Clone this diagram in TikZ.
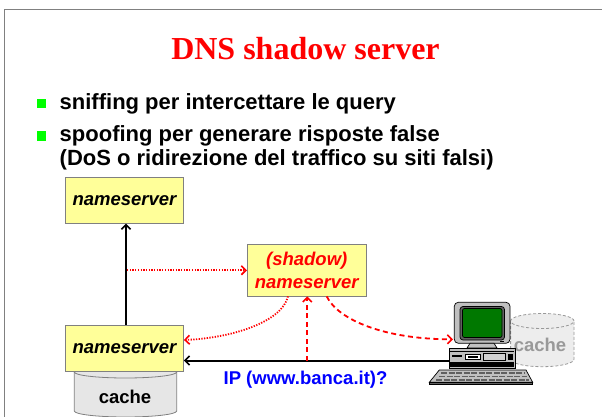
\documentclass[tikz,border=0pt]{standalone}
\usepackage{fontspec}
\setmainfont{Liberation Serif}
\newfontfamily\arialf{Liberation Sans}
\usetikzlibrary{arrows.meta}

\definecolor{boxyellow}{HTML}{FFFF99}
\definecolor{framegray}{HTML}{808080}
\definecolor{cachegray}{HTML}{E6E6E6}
\definecolor{ghostfill}{HTML}{EDEDED}
\definecolor{ghostline}{HTML}{999999}
\definecolor{bulletgreen}{HTML}{00FF00}
\definecolor{screengreen}{HTML}{007800}
\definecolor{pcgray}{HTML}{C0C0C0}
\definecolor{pcdark}{HTML}{606060}

\begin{document}
\begin{tikzpicture}[x=1pt,y=-1pt,
  nsbox/.style={draw=framegray, line width=0.8pt, fill=boxyellow,
    minimum width=118pt, minimum height=46pt, inner sep=0pt, align=center,
    font=\arialf\fontsize{18.5}{23}\selectfont\bfseries\itshape},
  bullettext/.style={anchor=base west, inner sep=0pt,
    font=\arialf\fontsize{22}{24}\selectfont\bfseries},
  bulletmark/.style={fill=bulletgreen, minimum size=9pt, inner sep=0pt},
  difftext/.style={inner sep=0pt, font=\arialf\fontsize{18.5}{22}\selectfont\bfseries},
  tip/.style={-{Straight Barb[length=4.5pt,width=9pt,line width=1.6pt]}},
  flow/.style={line width=2pt, tip},
  fake/.style={red, line width=1.8pt, tip},
  fakedash/.style={fake, dash pattern=on 5pt off 3.5pt},
  fakedot/.style={fake, dash pattern=on 1.3pt off 1.4pt}
]
\useasboundingbox (0,0) rectangle (602,417);

% slide frame
\draw[framegray, line width=1.6pt] (4.5,417) -- (4.5,9.5) -- (602,9.5);

% title
\node[anchor=base, inner sep=0pt, text=red,
      font=\fontsize{32}{36}\selectfont\bfseries] (title) at (305.5,60) {DNS shadow server};

% bullet list
\node[bulletmark] (b1) at (41,104) {};
\node[bulletmark] (b2) at (41,136) {};
\node[bullettext] (t1) at (59.5,110) {sniffing per intercettare le query};
\node[bullettext] (t2) at (59.5,141.7) {spoofing per generare risposte false};
\node[bullettext] (t3) at (59.5,165) {(DoS o ridirezione del traffico su siti falsi)};

% cache of the local nameserver
\fill[cachegray] (74.3,372) -- (74.3,411)
   arc[start angle=180, end angle=360, x radius=51.2pt, y radius=6pt] -- (176.7,372) -- cycle;
\draw[framegray, line width=0.8pt] (74.3,372) -- (74.3,411)
   arc[start angle=180, end angle=360, x radius=51.2pt, y radius=6pt] -- (176.7,372);
\draw[framegray, line width=0.8pt, fill=cachegray] (125.5,372) ellipse[x radius=51.2pt, y radius=6pt];
\node[difftext] (cache1) at (125,396.7) {cache};

% nameservers
\node[nsbox] (ns1) at (124.5,200.3) {nameserver};
\node[nsbox] (ns2) at (124.5,348.3) {nameserver};
\node[nsbox, minimum width=118.7pt, minimum height=51.3pt, text=red] (shadow) at (306.7,270.3) {(shadow)\\nameserver};

% client cache (ghosted)
\fill[ghostfill] (510.6,321) -- (510.6,359.2)
   arc[start angle=180, end angle=360, x radius=31.7pt, y radius=7.5pt] -- (574,321) -- cycle;
\draw[ghostline, densely dashed, line width=0.8pt] (510.6,321) -- (510.6,359.2)
   arc[start angle=180, end angle=360, x radius=31.7pt, y radius=7.5pt] -- (574,321);
\draw[ghostline, densely dashed, line width=0.8pt, fill=ghostfill] (542.3,321) ellipse[x radius=31.7pt, y radius=7.5pt];
\node[difftext, text=ghostline] (cache2) at (540,345) {cache};

% client computer
\begin{scope}[line width=0.7pt]
  % monitor
  \draw[fill=pcgray, rounded corners=4pt] (454.3,302.3) rectangle (510,343.3);
  \draw[fill=pcdark, rounded corners=3pt] (460,306.5) rectangle (504.5,340);
  \draw[fill=screengreen, rounded corners=2pt] (462.5,308.5) rectangle (502,337.5);
  \fill (500,341) rectangle (504,342.3);
  % stand
  \draw[fill=pcgray] (470,343.3) -- (494,343.3) -- (497,348) -- (467,348) -- cycle;
  % system unit
  \draw[fill=pcgray] (449.3,348) rectangle (515,368.3);
  \fill (450,362) rectangle (514.3,366.5);
  \fill (450,351) rectangle (514.3,352.3);
  \draw[fill=white] (465,354) rectangle (480,359);
  \fill (468,356) rectangle (478,357.5);
  \draw[fill=pcgray!70] (483,353.5) rectangle (505,360);
  \fill (508,353.5) rectangle (513,360);
  \fill (452,355) rectangle (462,356.5);
  % keyboard
  \draw[fill=pcgray] (439.3,370) -- (526,370) -- (532.7,382.3) -- (429.3,382.3) -- cycle;
  \draw[fill=pcdark] (429.3,382.3) rectangle (532.7,384.3);
  \foreach \yy/\xa/\xb in {373/441/524, 376.5/439/527, 380/436/529}
    \draw[pcdark, line width=1.4pt, dash pattern=on 6pt off 1.5pt] (\xa,\yy) -- (\xb,\yy);
\end{scope}
\coordinate (screen) at (453,339.3);
\coordinate (lan) at (449,360.5);

% legitimate resolution path
\draw[flow] ([xshift=1.5pt]ns2.north) -- ([xshift=1.5pt]ns1.south);
\draw[flow] (lan) -- (lan -| ns2.east);
\node[difftext, text=blue, anchor=base] (ip) at (305.5,384) {IP (www.banca.it)?};

% shadow server activity
\coordinate (tap) at (127,270.3);
\draw[fakedot] (tap) -- (shadow.west);
\coordinate (sniff) at (307.3,360.7);
\draw[fakedash] (sniff) -- (sniff |- shadow.south);
\draw[fakedot] ([xshift=-18.7pt]shadow.south) .. controls (282,322) and (232,338) .. ([yshift=8.3pt]ns2.east);
\draw[fakedash] ([xshift=20pt]shadow.south) .. controls (338,320) and (385,339.3) .. (screen);
\end{tikzpicture}
\end{document}
